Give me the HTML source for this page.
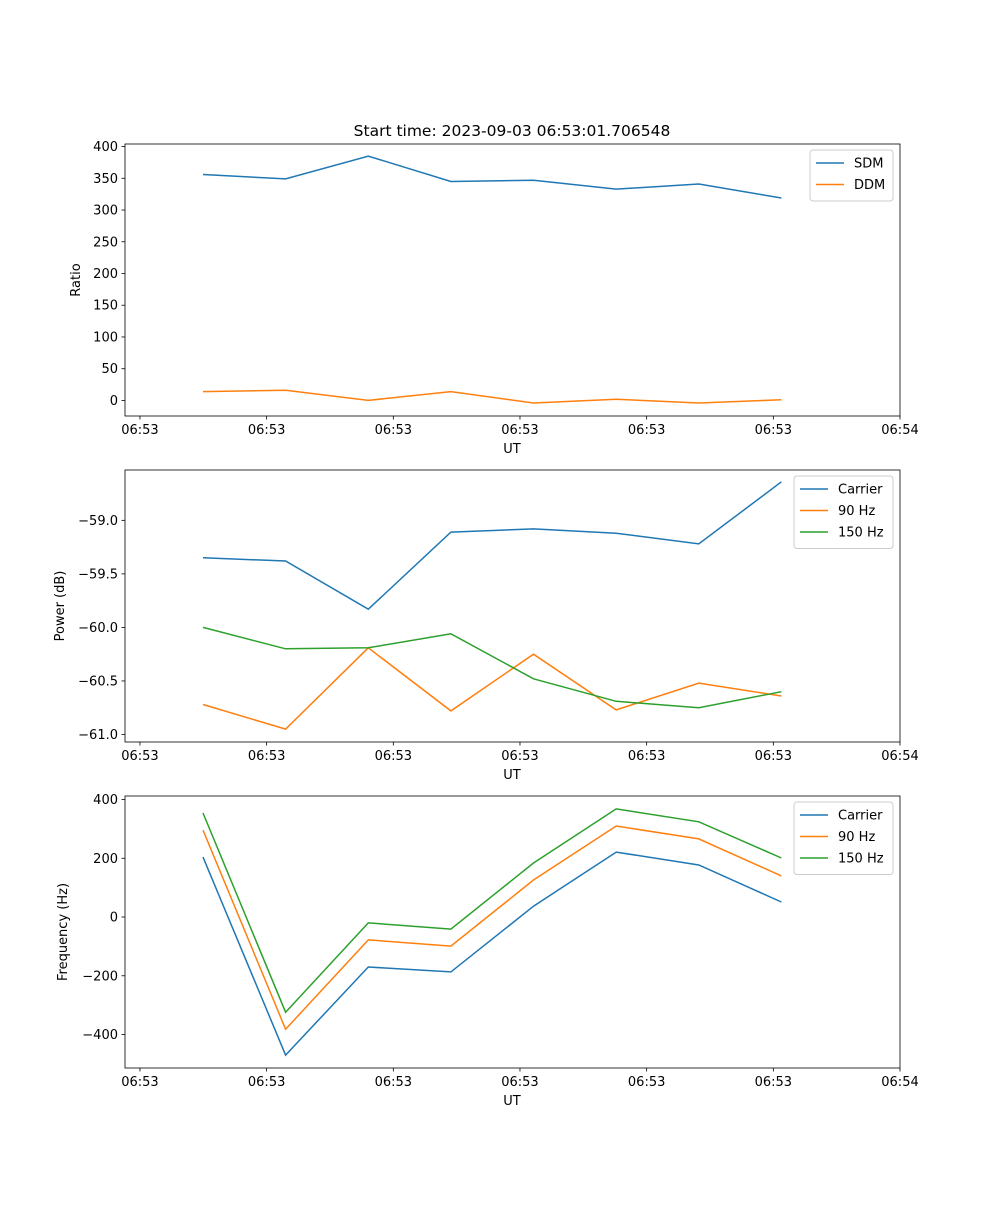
<!DOCTYPE html>
<html><head><meta charset="utf-8"><style>
body{margin:0;background:#fff;font-family:"Liberation Sans","DejaVu Sans",sans-serif}
svg text{font-family:"DejaVu Sans","Liberation Sans",sans-serif;font-size:13px;fill:#000}
</style></head><body>
<svg id="fig" width="1000" height="1200" xmlns="http://www.w3.org/2000/svg">
<text x="512" y="136" text-anchor="middle" style="font-size:15.5px">Start time: 2023-09-03 06:53:01.706548</text>
</svg>
<script>
const xIdx=[0,1,2,3,4,5,6,7];
const xTickVals=[-0.763,0.770,2.303,3.836,5.369,6.902,8.435];
const xTickLabels=["06:53","06:53","06:53","06:53","06:53","06:53","06:54"];
const sdm=[356,349,385,345,347,333,341,319];
const ddm=[14,16,0,14,-4,2,-4,1];
const pCarrier=[-59.35,-59.38,-59.83,-59.11,-59.08,-59.12,-59.22,-58.64];
const p90=[-60.72,-60.95,-60.19,-60.78,-60.25,-60.77,-60.52,-60.64];
const p150=[-60.0,-60.20,-60.19,-60.06,-60.48,-60.69,-60.75,-60.60];
const fCarrier=[204,-470,-170,-187,37,221,177,51];
const f90=[296,-382,-78,-99,126,310,266,140];
const f150=[354,-324,-20,-41,184,368,324,201];
const ticks1=[0,50,100,150,200,250,300,350,400];
const ticks2=[-61.0,-60.5,-60.0,-59.5,-59.0];
const tickLabels2=["\u221261.0","\u221260.5","\u221260.0","\u221259.5","\u221259.0"];
const ticks3=[-400,-200,0,200,400];
const tickLabels3=["\u2212400","\u2212200","0","200","400"];
const C=["#1f77b4","#ff7f0e","#2ca02c"];
const svg=document.getElementById('fig');
const NS="http://www.w3.org/2000/svg";
function mk(t,a,p){const e=document.createElementNS(NS,t);for(const k in a)e.setAttribute(k,a[k]);(p||svg).appendChild(e);return e;}
const X0=125,X1=900,xmin=-0.944,xmax=8.435;
const xs=v=>X0+(v-xmin)/(xmax-xmin)*(X1-X0);
function panel(name,top,bot,ymin,ymax,yt,ytl,ylabel,series,legW,legX){
  const g=mk('g',{});
  
  
  const ys=v=>bot-(v-ymin)/(ymax-ymin)*(bot-top);
  series.forEach((s,i)=>{
    const d=s.vals.map((v,j)=>(j?'L':'M')+xs(xIdx[j]).toFixed(1)+' '+ys(v).toFixed(1)).join(' ');
    const p=mk('path',{d:d,fill:'none',stroke:C[i],'stroke-width':1.5},g);
    
    
  });
  const r=mk('rect',{x:X0,y:top,width:X1-X0,height:bot-top,fill:'none',stroke:'#000','stroke-width':0.8},g);
  
  
  xTickVals.forEach((v,i)=>{const x=xs(v);
    mk('line',{x1:x,x2:x,y1:bot,y2:bot+3.5,stroke:'#000','stroke-width':0.8},g);
    const t=mk('text',{x:x,y:bot+18,'text-anchor':'middle'},g);t.textContent=xTickLabels[i];
    
    });
  yt.forEach((v,i)=>{const y=ys(v);
    mk('line',{x1:X0-3.5,x2:X0,y1:y,y2:y,stroke:'#000','stroke-width':0.8},g);
    const t=mk('text',{x:X0-7,y:y+4.5,'text-anchor':'end'},g);t.textContent=ytl[i];
    
    });
  const xl=mk('text',{x:512,y:bot+37,'text-anchor':'middle'},g);xl.textContent='UT';
  
  
  const yl=mk('text',{x:0,y:0,'text-anchor':'middle',transform:`translate(${ylabel.x},${(top+bot)/2}) rotate(-90)`},g);yl.textContent=ylabel.t;
  
  
  const lg=mk('g',{},g);
  
  
  mk('rect',{x:legX,y:top+6,width:legW,height:series.length*21.5+8,rx:3,fill:'#fff',stroke:'#ccc'},lg);
  series.forEach((s,i)=>{const y=top+19+i*21.5;
    mk('line',{x1:legX+6,x2:legX+34,y1:y,y2:y,stroke:C[i],'stroke-width':1.5},lg);
    const t=mk('text',{x:legX+44,y:y+4.5},lg);t.textContent=s.label;
    
    });
}
panel('ratio',144,416,-24.5,404,ticks1,ticks1.map(String),{x:80,t:'Ratio'},
  [{key:'sdm',label:'SDM',vals:sdm},{key:'ddm',label:'DDM',vals:ddm}],83,810);
panel('power',470,742,-61.07,-58.53,ticks2,tickLabels2,{x:64,t:'Power (dB)'},
  [{key:'carrier',label:'Carrier',vals:pCarrier},{key:'90hz',label:'90 Hz',vals:p90},{key:'150hz',label:'150 Hz',vals:p150}],99,794);
panel('frequency',796,1068,-514,412,ticks3,tickLabels3,{x:67,t:'Frequency (Hz)'},
  [{key:'carrier',label:'Carrier',vals:fCarrier},{key:'90hz',label:'90 Hz',vals:f90},{key:'150hz',label:'150 Hz',vals:f150}],99,794);
</script>
</body></html>
